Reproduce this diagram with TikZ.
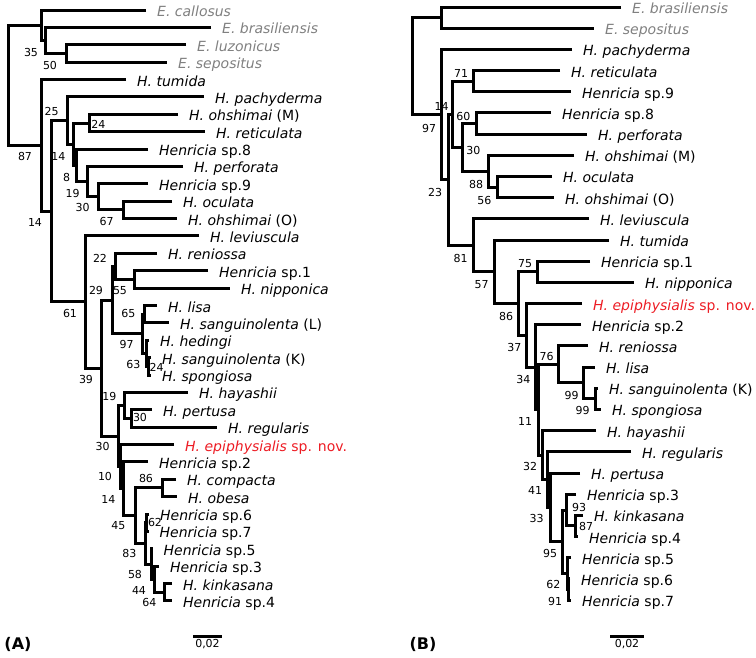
\documentclass[tikz,border=0pt]{standalone}
\usepackage{fontspec}
\setmainfont{DejaVu Sans}
\usetikzlibrary{calc}
\definecolor{outgray}{RGB}{128,128,128}
\definecolor{novred}{RGB}{237,28,36}
\tikzset{
  branch/.style = {line width=3pt, line join=miter},
  taxlab/.style = {anchor=base west, inner sep=0pt, xshift=11pt, yshift=-6.5pt,
    font=\fontsize{14}{16}\selectfont},
  bs/.style = {inner sep=0pt, font=\fontsize{11}{12}\selectfont},% bootstrap
  panel/.style = {inner sep=0pt, font=\fontsize{16}{18}\selectfont\bfseries}
}
% tip coordinate + its name
\newcommand{\taxon}[5][]{%
  \coordinate (#2) at (#3,#4);
  \node[taxlab,#1] (#2-t) at (#2) {#5};}
% inner node at x, halfway between its two children
\newcommand{\clade}[4]{%
  \path let \p1=($(#3)!.5!(#4)$) in coordinate (#1) at (#2pt,\y1);
  \draw[branch] (#3) -| (#1) |- (#4);}

\begin{document}
\begin{tikzpicture}[x=1pt, y=-1pt]
  \useasboundingbox (0,0) rectangle (756,657);

  % ---- (A) ----
  \taxon[text=outgray]{aCal}{146}{10}{\textit{E. callosus}}
  \taxon[text=outgray]{aBra}{211}{27.4}{\textit{E. brasiliensis}}
  \taxon[text=outgray]{aLuz}{186}{44.8}{\textit{E. luzonicus}}
  \taxon[text=outgray]{aSep}{167}{62.1}{\textit{E. sepositus}}
  \taxon{aTum}{126}{79.5}{\textit{H. tumida}}
  \taxon{aPac}{204}{96.9}{\textit{H. pachyderma}}
  \taxon{aOhM}{178}{114.3}{\textit{H. ohshimai} (M)}
  \taxon{aRet}{205}{131.7}{\textit{H. reticulata}}
  \taxon{aSp8}{148}{149.0}{\textit{Henricia} sp.8}
  \taxon{aPer}{183}{166.4}{\textit{H. perforata}}
  \taxon{aSp9}{148}{183.8}{\textit{Henricia} sp.9}
  \taxon{aOcu}{172}{201.2}{\textit{H. oculata}}
  \taxon{aOhO}{177}{218.6}{\textit{H. ohshimai} (O)}
  \taxon{aLev}{199}{235.9}{\textit{H. leviuscula}}
  \taxon{aRen}{157}{253.3}{\textit{H. reniossa}}
  \taxon{aSp1}{208}{270.7}{\textit{Henricia} sp.1}
  \taxon{aNip}{230}{288.1}{\textit{H. nipponica}}
  \taxon{aLis}{157}{305.5}{\textit{H. lisa}}
  \taxon{aSaL}{169}{322.8}{\textit{H. sanguinolenta} (L)}
  \taxon{aHed}{149}{340.2}{\textit{H. hedingi}}
  \taxon{aSaK}{151}{357.6}{\textit{H. sanguinolenta} (K)}
  \taxon{aSpo}{151}{375.0}{\textit{H. spongiosa}}
  \taxon{aHay}{188}{392.4}{\textit{H. hayashii}}
  \taxon{aPtu}{152}{409.7}{\textit{H. pertusa}}
  \taxon{aReg}{217}{427.1}{\textit{H. regularis}}
  \taxon[text=novred]{aEpi}{174}{444.5}{\textit{H. epiphysialis} sp. nov.}
  \taxon{aSp2}{148}{461.9}{\textit{Henricia} sp.2}
  \taxon{aCom}{176}{479.3}{\textit{H. compacta}}
  \taxon{aObe}{177}{496.6}{\textit{H. obesa}}
  \taxon{aSp6}{149}{514.0}{\textit{Henricia} sp.6}
  \taxon{aSp7}{148.5}{531.4}{\textit{Henricia} sp.7}
  \taxon{aSp5}{152.5}{548.8}{\textit{Henricia} sp.5}
  \taxon{aSp3}{159}{566.2}{\textit{Henricia} sp.3}
  \taxon{aKin}{172}{583.5}{\textit{H. kinkasana}}
  \taxon{aSp4}{172}{600.9}{\textit{Henricia} sp.4}

  \clade{aE3}{66}{aLuz}{aSep}
  \clade{aE2}{45.7}{aBra}{aE3}
  \clade{aE1}{41}{aCal}{aE2}
  \clade{aI5}{89}{aOhM}{aRet}
  \clade{aI9}{123}{aOcu}{aOhO}
  \clade{aI8}{98}{aSp9}{aI9}
  \clade{aI7}{87}{aPer}{aI8}
  \clade{aI6}{76}{aSp8}{aI7}
  \clade{aI4}{73}{aI5}{aI6}
  \clade{aI3}{67}{aPac}{aI4}
  \clade{aJ5}{134}{aSp1}{aNip}
  \clade{aJ4}{115}{aRen}{aJ5}
  \clade{aJ7}{144}{aLis}{aSaL}
  \clade{aJ9}{148.5}{aSaK}{aSpo}
  \clade{aJ8}{146}{aHed}{aJ9}
  \clade{aJ6}{142}{aJ7}{aJ8}
  \clade{aJ3}{112}{aJ4}{aJ6}
  \clade{aK2b}{131}{aPtu}{aReg}
  \clade{aK2}{124}{aHay}{aK2b}
  \clade{aMco}{162}{aCom}{aObe}
  \clade{aM67}{146.5}{aSp6}{aSp7}
  \clade{aMkin}{164}{aKin}{aSp4}
  \clade{aM3}{154}{aSp3}{aMkin}
  \clade{aM5}{151.5}{aSp5}{aM3}
  \clade{aMe}{145}{aM67}{aM5}
  \clade{aMf}{135}{aMco}{aMe}
  \clade{aMg}{123}{aSp2}{aMf}
  \clade{aMh}{120}{aEpi}{aMg}
  \clade{aK1}{118}{aK2}{aMh}
  \clade{aJ2}{101}{aJ3}{aK1}
  \clade{aJ1}{85}{aLev}{aJ2}
  \clade{aI2}{51}{aI3}{aJ1}
  \clade{aI1}{41}{aTum}{aI2}
  \clade{aR}{8}{aE1}{aI1}

  \foreach \px/\py/\v [count=\k] in {31/52.3/35, 50/65/50, 25/156.7/87,
      51.7/111.7/25, 98.3/124.3/24, 58.3/156/14, 66.7/177.3/8, 72.7/193.3/19,
      82.7/207.3/30, 106.7/221.7/67, 35/222.7/14, 70/313.3/61, 100/258.3/22,
      96/290.7/29, 120/290.7/55, 128.3/313.3/65, 126.7/344.3/97,
      133.3/364.3/63, 156.7/367.7/24, 86/379/39, 109.3/396/19, 140/417.7/30,
      102.7/446.7/30, 105/476.7/10, 146/478/86, 108.3/499.3/14, 118.3/526/45,
      155/522.7/62, 129.3/553.3/83, 135/574/58, 139/590/44, 149.3/602.7/64}
    \node[bs] (bsA\k) at (\px,\py) {\v};

  % ---- (B) ----
  \taxon[text=outgray]{bBra}{621}{7}{\textit{E. brasiliensis}}
  \taxon[text=outgray]{bSep}{594}{28.2}{\textit{E. sepositus}}
  \taxon{bPac}{572}{49.4}{\textit{H. pachyderma}}
  \taxon{bRet}{560}{70.5}{\textit{H. reticulata}}
  \taxon{bSp9}{571}{91.7}{\textit{Henricia} sp.9}
  \taxon{bSp8}{551}{112.9}{\textit{Henricia} sp.8}
  \taxon{bPer}{587}{134.1}{\textit{H. perforata}}
  \taxon{bOhM}{574}{155.3}{\textit{H. ohshimai} (M)}
  \taxon{bOcu}{552}{176.4}{\textit{H. oculata}}
  \taxon{bOhO}{554}{197.6}{\textit{H. ohshimai} (O)}
  \taxon{bLev}{589}{218.8}{\textit{H. leviuscula}}
  \taxon{bTum}{609}{240.0}{\textit{H. tumida}}
  \taxon{bSp1}{590}{261.2}{\textit{Henricia} sp.1}
  \taxon{bNip}{634}{282.3}{\textit{H. nipponica}}
  \taxon[text=novred]{bEpi}{582}{303.5}{\textit{H. epiphysialis} sp. nov.}
  \taxon{bSp2}{581}{324.7}{\textit{Henricia} sp.2}
  \taxon{bRen}{588}{345.9}{\textit{H. reniossa}}
  \taxon{bLis}{595}{367.1}{\textit{H. lisa}}
  \taxon{bSaK}{598}{388.2}{\textit{H. sanguinolenta} (K)}
  \taxon{bSpo}{601}{409.4}{\textit{H. spongiosa}}
  \taxon{bHay}{596}{430.6}{\textit{H. hayashii}}
  \taxon{bReg}{631}{451.8}{\textit{H. regularis}}
  \taxon{bPtu}{580}{473.0}{\textit{H. pertusa}}
  \taxon{bSp3}{576}{494.2}{\textit{Henricia} sp.3}
  \taxon{bKin}{583}{515.3}{\textit{H. kinkasana}}
  \taxon{bSp4}{578}{536.5}{\textit{Henricia} sp.4}
  \taxon{bSp5}{571}{557.7}{\textit{Henricia} sp.5}
  \taxon{bSp6}{570}{578.9}{\textit{Henricia} sp.6}
  \taxon{bSp7}{571}{600.0}{\textit{Henricia} sp.7}

  \clade{bE}{441}{bBra}{bSep}
  \clade{bRt}{473}{bRet}{bSp9}
  \clade{bPf}{476}{bSp8}{bPer}
  \clade{bOc}{497}{bOcu}{bOhO}
  \clade{bOh}{488}{bOhM}{bOc}
  \clade{bQ}{462}{bPf}{bOh}
  \clade{bP}{452}{bRt}{bQ}
  \clade{bNp}{537}{bSp1}{bNip}
  \clade{bKn}{575}{bKin}{bSp4}
  \clade{bS3}{566}{bSp3}{bKn}
  \clade{bS67}{568.5}{bSp6}{bSp7}
  \clade{bS5}{567}{bSp5}{bS67}
  \clade{bS}{562}{bS3}{bS5}
  \clade{bPt}{550}{bPtu}{bS}
  \clade{bRg}{547}{bReg}{bPt}
  \clade{bHy}{542}{bHay}{bRg}
  \clade{bSK}{595.5}{bSaK}{bSpo}
  \clade{bLs}{583}{bLis}{bSK}
  \clade{bRn}{558}{bRen}{bLs}
  \clade{bC}{538}{bRn}{bHy}
  \clade{bB}{535.7}{bSp2}{bC}
  \clade{bA}{526}{bEpi}{bB}
  \clade{bN}{518}{bNp}{bA}
  \clade{bT}{494}{bTum}{bN}
  \clade{bL}{473}{bLev}{bT}
  \clade{bM}{448}{bP}{bL}
  \clade{bI}{441}{bPac}{bM}
  \clade{bR}{412}{bE}{bI}

  \foreach \px/\py/\v [count=\k] in {429/128/97, 441.7/106.7/14, 461/73.3/71,
      463.3/116/60, 473.3/150/30, 435/192.3/23, 476/184/88, 484.3/200/56,
      460.7/258.3/81, 481.7/285/57, 525/264/75, 506/316/86, 514.3/347.7/37,
      546.7/356/76, 523.3/379.3/34, 571.7/395/99, 582.7/410.7/99,
      525/421.7/11, 530/466/32, 535/490.7/41, 536.7/518.3/33, 579/507.5/93,
      586/526.3/87, 550/553.3/95, 553.3/584/62, 555/601/91}
    \node[bs] (bsB\k) at (\px,\py) {\v};

  % scale bars and panel letters
  \coordinate (sbA0) at (193,636);
  \coordinate (sbA1) at (222,636);
  \draw[branch] (sbA0) -- (sbA1);
  \node[bs, anchor=north] (sbAt) at ($(sbA0)!.5!(sbA1)+(0,3)$) {0,02};
  \coordinate (sbB0) at (610,636);
  \coordinate (sbB1) at (644,636);
  \draw[branch] (sbB0) -- (sbB1);
  \node[bs, anchor=north] (sbBt) at ($(sbB0)!.5!(sbB1)+(0,3)$) {0,02};
  \node[panel] (labA) at (18,644) {(A)};
  \node[panel] (labB) at (423,644) {(B)};
\end{tikzpicture}
\end{document}
